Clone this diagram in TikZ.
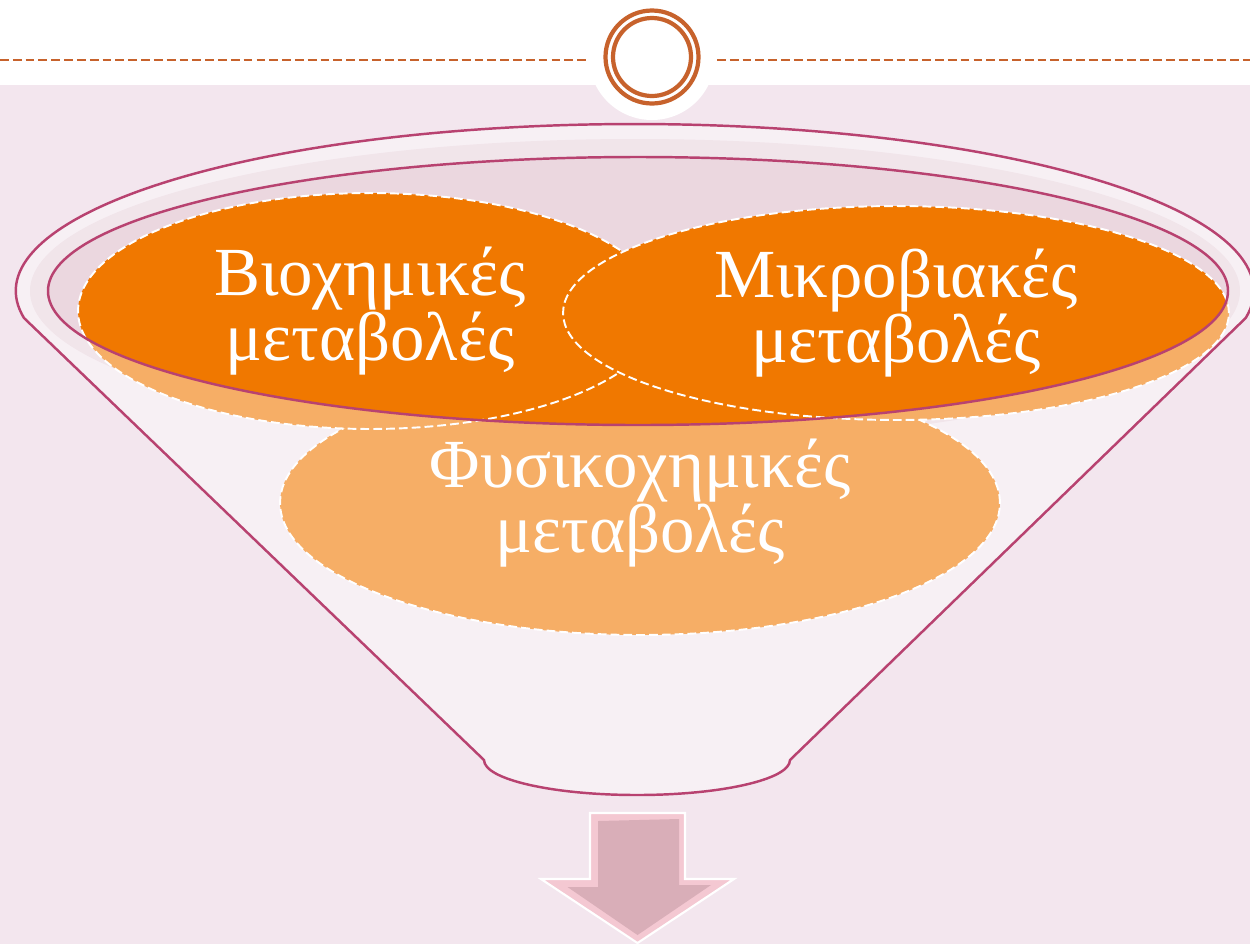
\documentclass[tikz,border=0pt]{standalone}
\usepackage{fontspec}
\setmainfont{Liberation Serif}
\usetikzlibrary{shapes.geometric}
\definecolor{bgpink}{RGB}{243,230,238}
\definecolor{rimline}{RGB}{184,66,112}
\definecolor{ringc}{RGB}{199,98,44}
\definecolor{orangeA}{RGB}{240,120,0}
\definecolor{rimin}{RGB}{235,215,223}
\definecolor{band}{RGB}{232,212,220}
\definecolor{arrowface}{RGB}{217,174,184}
\definecolor{arrowedge}{RGB}{244,200,210}
\tikzset{
  blob/.style={ellipse, inner sep=0pt, fill=orangeA, draw=white, line width=1.1pt,
    dash pattern=on 5pt off 2.3pt, text=white, align=center,
    font=\fontsize{39.2}{35.6}\selectfont},
  rimstroke/.style={draw=rimline, line width=1.4pt},
  topdash/.style={draw=ringc, line width=1.3pt, dash pattern=on 5pt off 2.3pt},
  ringline/.style={draw=ringc, line width=2.4pt},
}
\begin{document}
\begin{tikzpicture}[x=0.02cm,y=0.02cm]
\useasboundingbox (0,0) rectangle (1250,-944);
% background
\fill[white] (0,0) rectangle (1250,-85);
\fill[bgpink] (0,-85) rectangle (1250,-944);
\fill[white] (652,-57) circle[radius=63];
% top ornament
\draw[ringline] (652,-57) circle[radius=46.5];
\draw[ringline] (652,-57) circle[radius=39];
\coordinate (dl0) at (0,-60);
\coordinate (dl1) at (588,-60);
\coordinate (dr0) at (717,-60);
\coordinate (dr1) at (1250,-60);
\draw[topdash] (dl0) -- (dl1);
\draw[topdash] (dr0) -- (dr1);
% funnel rim fills
\fill[band] (635,-291) ellipse[x radius=605, y radius=152];
\fill[rimin] (638,-291) ellipse[x radius=590, y radius=134];
% ellipses
\node[blob, minimum width=14.4cm, minimum height=5.28cm] (e3) at (640,-503) {Φυσικοχημικές\\μεταβολές};
\node[blob, minimum width=11.68cm, minimum height=4.72cm] (e1) at (370,-311) {Βιοχημικές\\μεταβολές};
\node[blob, minimum width=13.32cm, minimum height=4.28cm] (e2) at (896,-313) {Μικροβιακές\\μεταβολές};
% translucent funnel body
\fill[white, opacity=0.4, even odd rule]
  (24,-318) arc[start angle=189.3, end angle=-9.3, x radius=619, y radius=167]
  -- (790,-760) arc[start angle=0, end angle=-180, x radius=153, y radius=35] -- cycle
  (638,-291) ellipse[x radius=590, y radius=134];
% funnel outlines
\draw[rimstroke]
  (24,-318) arc[start angle=189.3, end angle=-9.3, x radius=619, y radius=167]
  -- (790,-760) arc[start angle=0, end angle=-180, x radius=153, y radius=35] -- cycle;
\draw[rimstroke] (638,-291) ellipse[x radius=590, y radius=134];
% arrow
\fill[arrowedge, draw=white, line width=1.2pt]
  (590,-813) -- (685,-813) -- (685,-879) -- (734,-879) -- (637.5,-943)
  -- (541,-879) -- (590,-879) -- cycle;
\fill[arrowface]
  (598,-821) -- (679,-819) -- (679,-885) -- (711,-885) -- (637.5,-935)
  -- (567.5,-887) -- (598,-887) -- cycle;
\end{tikzpicture}
\end{document}
